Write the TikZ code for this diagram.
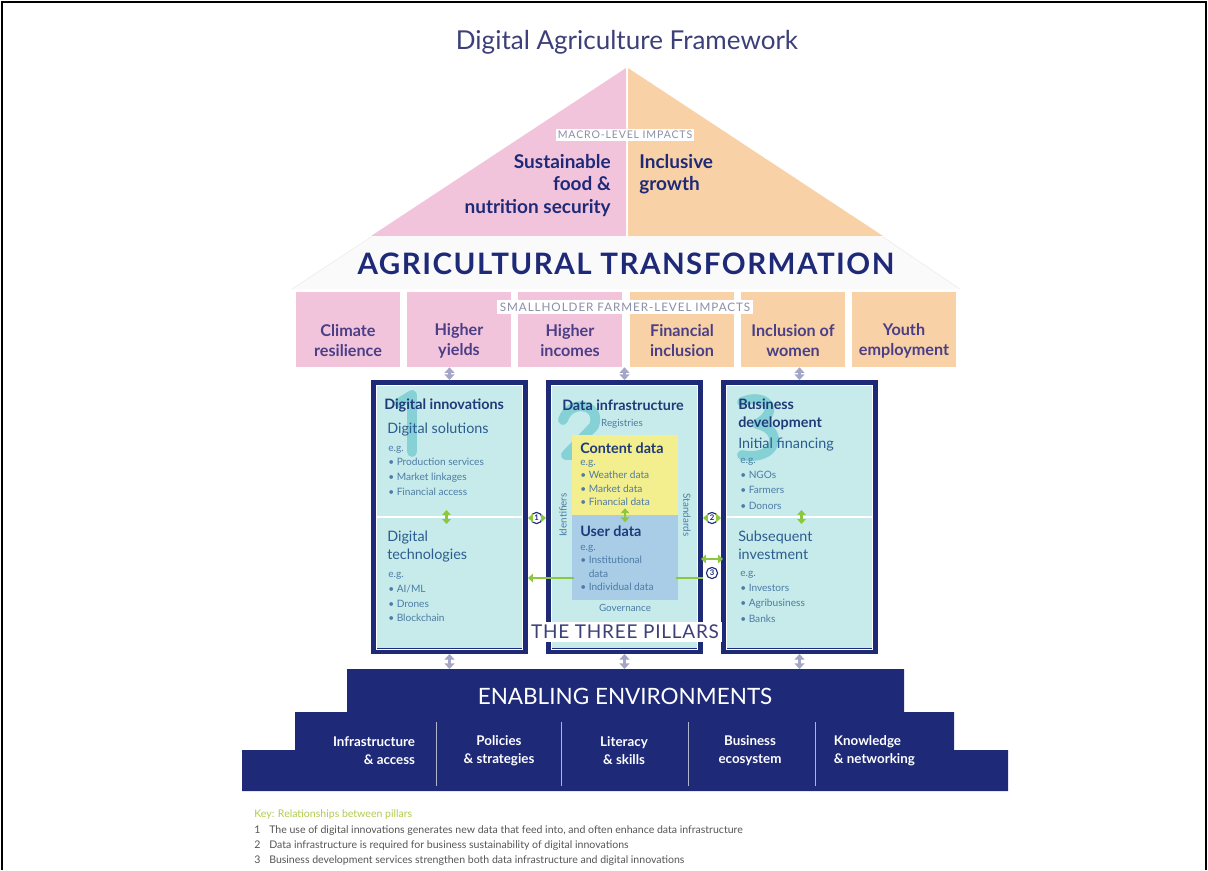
\documentclass[tikz,border=0pt]{standalone}
\usepackage{fontspec}
\setmainfont{Lato}
\usetikzlibrary{arrows.meta,positioning}
\definecolor{navy}{HTML}{1E2A78}
\definecolor{titlec}{HTML}{3C3F78}
\definecolor{pinkc}{HTML}{F2C4DC}
\definecolor{peachc}{HTML}{F8D1A6}
\definecolor{impc}{HTML}{4A3F86}
\definecolor{pillarc}{HTML}{C6EBEA}
\definecolor{yellowc}{HTML}{F3EE8E}
\definecolor{bluec}{HTML}{A9CDE6}
\definecolor{greenc}{HTML}{8DC63F}
\definecolor{grayarr}{HTML}{A3A6C6}
\definecolor{tealc}{HTML}{36B3BD}
\definecolor{headc}{HTML}{1F3A7A}
\definecolor{subc}{HTML}{2B5C8F}
\definecolor{bullc}{HTML}{4C7BA6}
\definecolor{labc}{HTML}{8A8FA8}
\definecolor{keyg}{HTML}{AFCB4F}
\definecolor{keyt}{HTML}{555555}
\begin{document}
\begin{tikzpicture}[x=0.025cm,y=-0.025cm,
    impact/.style={minimum width=2.6cm,minimum height=1.875cm,inner sep=0pt},
    imptext/.style={align=center,text=impc,font=\fontsize{11.5}{14.2}\selectfont\bfseries},
    pillar/.style={draw=navy,line width=4.2pt,fill=pillarc,minimum width=3.775cm,minimum height=6.7cm,inner sep=0pt},
    phead/.style={anchor=west,inner sep=0pt,align=left,text=headc,font=\fontsize{10.2}{12.8}\selectfont\bfseries},
    psub/.style={anchor=west,inner sep=0pt,align=left,text=subc,font=\fontsize{10.2}{12.8}\selectfont},
    pbull/.style={anchor=north west,inner sep=0pt,align=left,text=bullc,font=\fontsize{7.2}{10.5}\selectfont},
    psmall/.style={inner sep=0pt,text=bullc,font=\fontsize{7}{8}\selectfont},
    pnum/.style={tealc,opacity=0.45,line width=7pt,line cap=round,line join=round},
    circ/.style={circle,draw=navy,fill=white,line width=0.8pt,inner sep=0.5pt,minimum size=0.28cm,text=navy,font=\fontsize{5.5}{6}\selectfont\bfseries},
    garr/.style={greenc,line width=1.6pt,-{Triangle[length=3.5pt,width=6pt]}},
    gdbl/.style={greenc,line width=1.6pt,{Triangle[length=3.5pt,width=6pt]}-{Triangle[length=3.5pt,width=6pt]}},
    grayline/.style={grayarr,line width=1.8pt,{Triangle[length=4pt,width=7pt]}-{Triangle[length=4pt,width=7pt]}},
    envcol/.style={text=white,font=\fontsize{9.5}{12.8}\selectfont\bfseries},
    keyline/.style={anchor=west,inner sep=0pt,text=keyt,font=\fontsize{7.5}{9}\selectfont}]
\useasboundingbox (0,0) rectangle (1208,870);
\draw[line width=1.3pt] (2,870)--(2,2)--(1206,2)--(1206,870);
\node[text=titlec,font=\fontsize{18.5}{22}\selectfont] (title) at (627,42) {Digital Agriculture Framework};
\fill[gray!4] (371,237)--(883,237)--(960,289)--(292,289)--cycle;
\draw[gray!15] (371,237)--(292,289) (883,237)--(960,289);
\fill[pinkc] (626,68)--(371,236)--(626,236)--cycle;
\fill[peachc] (628,68)--(628,236)--(883,236)--cycle;
\node[fill=white,inner sep=1.5pt,text=labc,font=\fontsize{7.5}{9}\selectfont\addfontfeature{LetterSpace=8}] (macro) at (625,135) {MACRO-LEVEL IMPACTS};
\node[anchor=north east,align=right,inner sep=0pt,text=navy,font=\fontsize{13.5}{16}\selectfont\bfseries] (food) at (611,154) {Sustainable\\food \&\\nutrition security};
\node[anchor=north west,align=left,inner sep=0pt,text=navy,font=\fontsize{13.5}{16}\selectfont\bfseries] (growth) at (639,154) {Inclusive\\growth};
\node[text=navy,font=\fontsize{21}{24}\selectfont\bfseries\addfontfeature{LetterSpace=5}] (agri) at (626,264) {AGRICULTURAL TRANSFORMATION};
\foreach \px/\col/\txt [count=\i] in {348/pinkc/{Climate\\resilience},459/pinkc/{Higher\\yields},570/pinkc/{Higher\\incomes},682/peachc/{Financial\\inclusion},793/peachc/{Inclusion of\\women},904/peachc/{Youth\\employment}}{
    \node[impact,fill=\col] (imp\i) at (\px,329.5) {};
    \node[imptext] at (\px,341) {\txt};
}
\node[fill=white,inner sep=2pt,text=labc,font=\fontsize{8.3}{10}\selectfont\addfontfeature{LetterSpace=8}] (farm) at (625,307) {SMALLHOLDER FARMER-LEVEL IMPACTS};
\foreach \px/\nm in {449.5/p1,624.5/p2,799.5/p3}{
    \node[pillar] (\nm) at (\px,517) {};
    \draw[white,line width=0.7pt] ([shift={(5,5)}]\nm.north west) rectangle ([shift={(-5,-5)}]\nm.south east);
}
\draw[white,line width=1.8pt] ([shift={(5,0)}]p1.west)--([shift={(-5,0)}]p1.east) ([shift={(5,0)}]p3.west)--([shift={(-5,0)}]p3.east);
\draw[pnum] (399,403)--(412,395)--(412,452);
\draw[pnum] (563,420) .. controls (570,398) and (602,404) .. (594,426)--(566,455)--(598,455);
\draw[pnum] (742,402) .. controls (765,392) and (782,410) .. (757,424) .. controls (786,430) and (776,462) .. (742,455);
\node[phead] at (384,405) {Digital innovations};
\node[psub] at (387,430) {Digital solutions};
\node[pbull] at (388,445.5) {e.g.\\\textbullet\ Production services\\\textbullet\ Market linkages\\\textbullet\ Financial access};
\node[psub,anchor=north west] at (387,531) {Digital\\technologies};
\node[pbull] at (388,572) {e.g.\\\textbullet\ AI/ML\\\textbullet\ Drones\\\textbullet\ Blockchain};
\draw[gdbl] ([shift={(-3,-7)}]p1.center)--([shift={(-3,7)}]p1.center);
\node[phead,anchor=center] at (623,405) {Data infrastructure};
\node[psmall] at (622,424) {Registries};
\node[fill=yellowc,minimum width=2.65cm,minimum height=2cm,inner sep=0pt] (cont) at (625,475) {};
\node[fill=bluec,minimum width=2.65cm,minimum height=2.125cm,inner sep=0pt] (user) at (625,557.5) {};
\node[phead] at (580,448) {Content data};
\node[pbull,font=\fontsize{7.2}{9.6}\selectfont] at (580,459.5) {e.g.\\\textbullet\ Weather data\\\textbullet\ Market data\\\textbullet\ Financial data};
\node[phead] at (580,531) {User data};
\node[pbull,font=\fontsize{7.2}{9.6}\selectfont] at (580,544.5) {e.g.\\\textbullet\ Institutional\\\phantom{\textbullet\ }data\\\textbullet\ Individual data};
\draw[gdbl] ([shift={(0,-7)}]cont.south)--([shift={(0,7)}]cont.south);
\node[psmall,rotate=90] at (563,515) {Identifiers};
\node[psmall,rotate=-90] at (687,515) {Standards};
\node[psmall] at (625,608) {Governance};
\node[phead,anchor=north west] at (738,399) {Business\\development};
\node[psub] at (738,445) {Initial financing};
\node[pbull,font=\fontsize{7.2}{11}\selectfont] at (740,457.5) {e.g.\\\textbullet\ NGOs\\\textbullet\ Farmers\\\textbullet\ Donors};
\node[psub,anchor=north west] at (738,531) {Subsequent\\investment};
\node[pbull,font=\fontsize{7.2}{11}\selectfont] at (740,570.5) {e.g.\\\textbullet\ Investors\\\textbullet\ Agribusiness\\\textbullet\ Banks};
\draw[gdbl] ([shift={(2,-7)}]p3.center)--([shift={(2,7)}]p3.center);
\node[fill=white,inner sep=2pt,text=titlec,font=\fontsize{13.5}{15}\selectfont\addfontfeature{LetterSpace=4}] (pill) at (625,632) {THE THREE PILLARS};
\node[circ] (c1) at (536.5,518) {1};
\node[circ] (c2) at (712,518) {2};
\node[circ] (c3) at (712,573) {3};
\draw[garr] (c1.west)--(p1.east |- c1.west);
\draw[garr] (c1.east)--(p2.west |- c1.east);
\draw[garr] (c2.west)--(p2.east |- c2.west);
\draw[garr] (c2.east)--(p3.west |- c2.east);
\coordinate (gl) at (574,578);
\coordinate (gr) at (676,578);
\draw[garr] (gl)--(p1.east |- gl);
\draw[greenc,line width=1.6pt] (gr)--(p2.east |- gr);
\draw[gdbl] ([shift={(-11,-14)}]c3.center)--([shift={(11,-14)}]c3.center);
\draw[grayline] (p1.north)--(p1.north |- imp2.south);
\draw[grayline] (p2.north)--(p2.north |- imp3.south);
\draw[grayline] (p3.north)--(p3.north |- imp5.south);
\fill[navy] (347,669)--(904,669)--(904,712)--(954,712)--(954,750)--(1008,750)--(1008,791)--(242,791)--(242,750)--(295,750)--(295,712)--(347,712)--cycle;
\coordinate (envtop) at (625,669);
\draw[grayline] (p1.south)--(p1.south |- envtop);
\draw[grayline] (p2.south)--(p2.south |- envtop);
\draw[grayline] (p3.south)--(p3.south |- envtop);
\node[text=white,font=\fontsize{16}{18}\selectfont] (env) at (625,696) {ENABLING ENVIRONMENTS};
\draw[white!65!navy,line width=0.6pt] (436,722)--(436,786) (561,722)--(561,786) (688,722)--(688,786) (815,722)--(815,786);
\node[envcol,anchor=east,align=right] (infra) at (420,751) {Infrastructure\\\& access};
\node[envcol,align=center] (pol) at (499,751) {Policies\\\& strategies};
\node[envcol,align=center] (lit) at (624,751) {Literacy\\\& skills};
\node[envcol,align=center] (bus) at (750,751) {Business\\ecosystem};
\node[envcol,anchor=west,align=left] (know) at (829,751) {Knowledge\\\& networking};
\node[keyline,text=keyg] (key) at (254,815) {Key: Relationships between pillars};
\node[keyline,below=0.4cm of key.west,anchor=west] (k1) {\makebox[0.375cm][l]{1}The use of digital innovations generates new data that feed into, and often enhance data infrastructure};
\node[keyline,below=0.375cm of k1.west,anchor=west] (k2) {\makebox[0.375cm][l]{2}Data infrastructure is required for business sustainability of digital innovations};
\node[keyline,below=0.375cm of k2.west,anchor=west] (k3) {\makebox[0.375cm][l]{3}Business development services strengthen both data infrastructure and digital innovations};
\end{tikzpicture}
\end{document}
